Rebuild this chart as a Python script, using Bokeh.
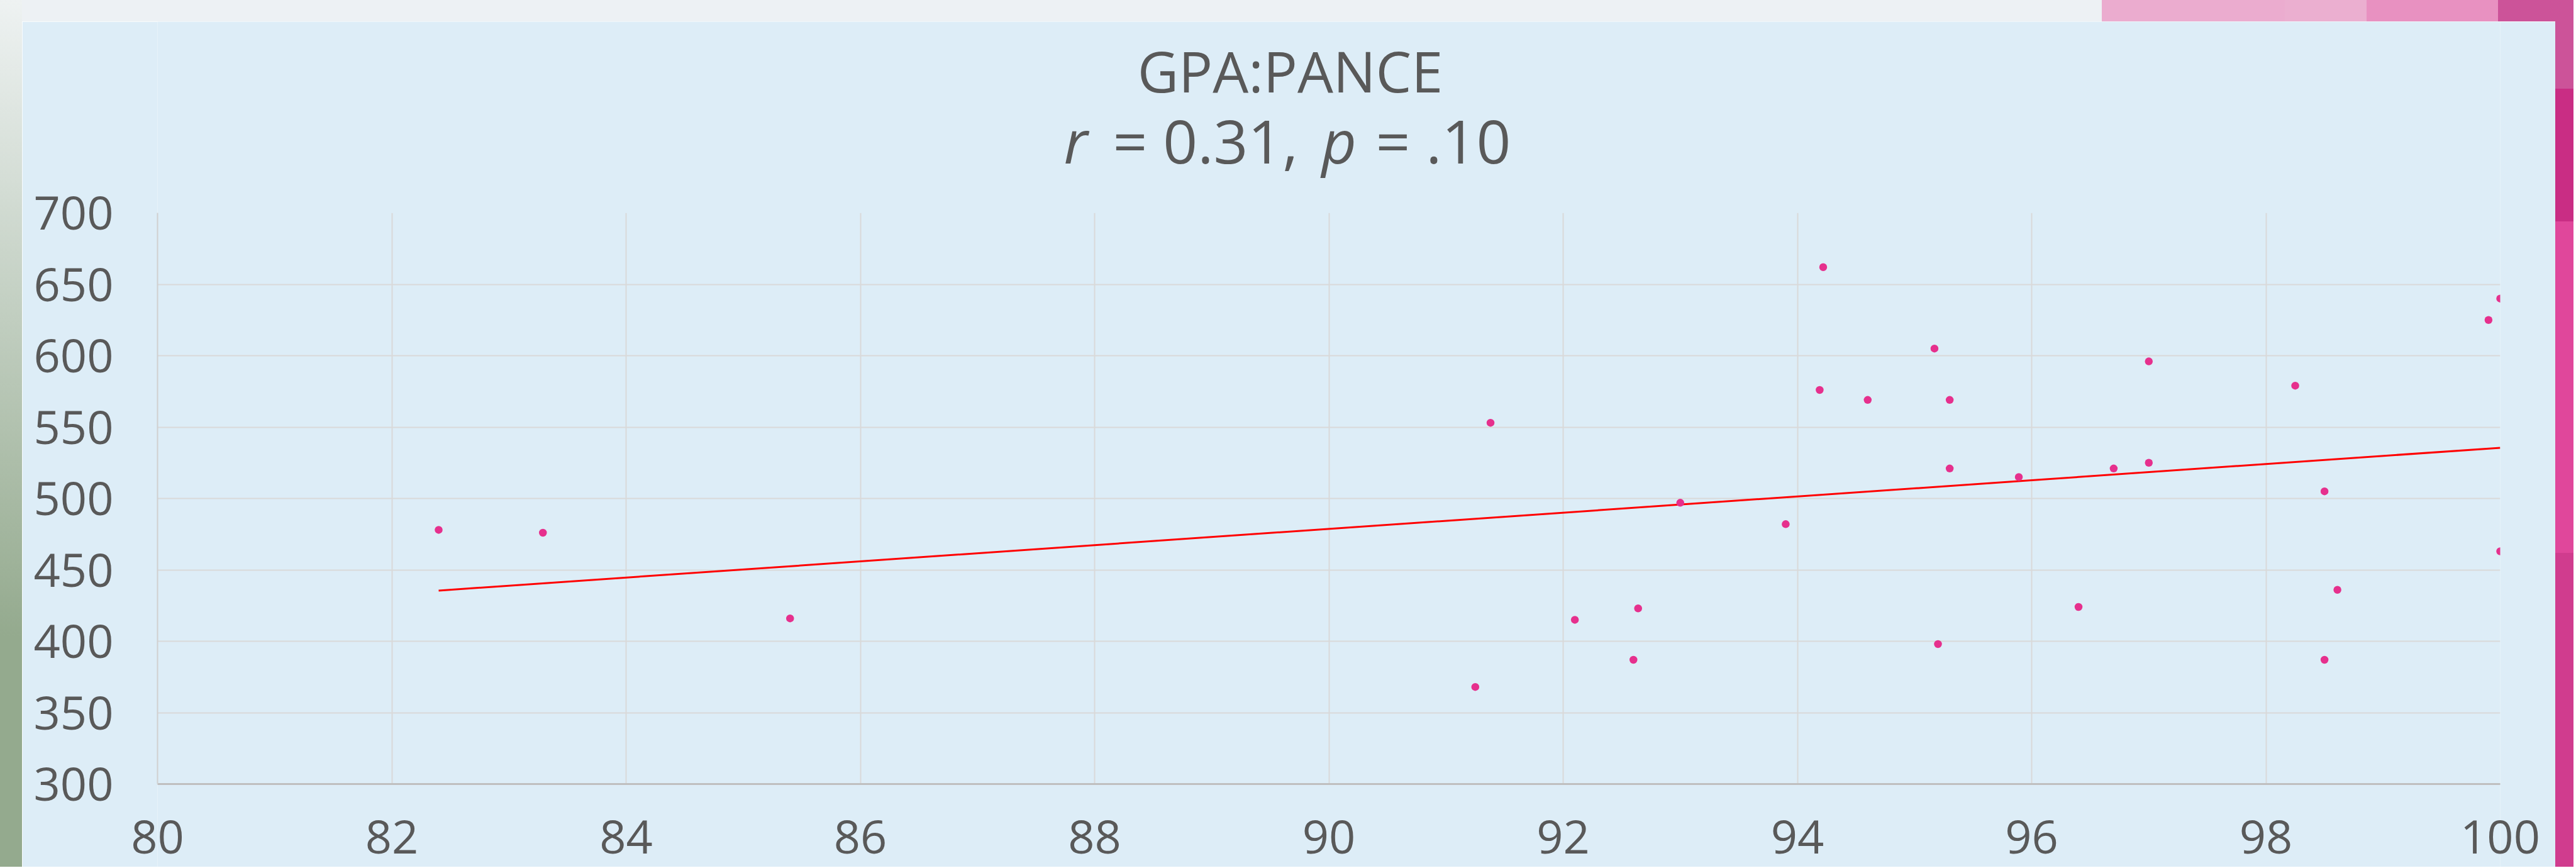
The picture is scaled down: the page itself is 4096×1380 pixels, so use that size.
from bokeh.plotting import figure
from bokeh.models import FixedTicker, Label, Range1d, Div
from bokeh.layouts import column, row
from bokeh.embed import file_html
from bokeh.resources import INLINE

# ---- data ----
gpa = [82.40, 83.29, 85.40, 91.25, 91.38, 92.10, 92.60, 92.64, 93.00, 93.90,
       94.19, 94.22, 94.60, 95.17, 95.20, 95.30, 95.30, 95.89, 96.40, 96.70,
       97.00, 97.00, 98.25, 98.50, 98.50, 98.61, 99.90, 100.0, 100.0]
pance = [478, 476, 416, 368, 553, 415, 387, 423, 497, 482,
         576, 662, 569, 605, 398, 569, 521, 515, 424, 521,
         596, 525, 579, 505, 387, 436, 625, 640, 463]
trend_gpa = [82.4, 100.0]
trend_pance = [435.5, 535.5]
x_ticks = [80, 82, 84, 86, 88, 90, 92, 94, 96, 98, 100]
y_ticks = [300, 350, 400, 450, 500, 550, 600, 650, 700]
title_line1 = "GPA:PANCE"
r_value = "0.31"
p_value = ".10"

FONT = "Open Sans"
TXT = "#595959"
PANEL = "#DDEDF7"

W, H = 4092, 1378          # whole slide area (page pixels)
LEFT_W, RIGHT_W, TOP_H = 35, 29, 34
MID_W = W - LEFT_W - RIGHT_W
MID_H = H - TOP_H
FR_L, FR_R, FR_T, FR_B = 250, 3975, 338, 1246   # plot frame on the page

# ---------------- slide decoration (CSS only) ----------------
left_strip = Div(text="", width=LEFT_W, height=H, margin=0,
                 styles={"background": "linear-gradient(to bottom, #EEF2F2 0px, #94AA8E 1011px, #94AA8E 1378px)"})
right_strip = Div(text="", width=RIGHT_W, height=H, margin=0,
                  styles={"background": "linear-gradient(to bottom, #CC5399 0px 141px, #C92D84 141px 352px, "
                                        "#E0479B 352px 879px, #D03C8E 879px 1378px)"})
top_strip = Div(text="", width=MID_W, height=TOP_H, margin=0,
                styles={"background": "linear-gradient(to right, #EDF1F4 0px 3307px, #EBACCF 3307px 3598px, "
                                      "#EBAFD0 3598px 3728px, #E891C1 3728px 3937px, #CC5399 3937px 4028px)"})

# ---------------- title panel (page pixel space) ----------------
back = figure(width=MID_W, height=MID_H, x_range=Range1d(FR_L, FR_R), y_range=Range1d(H, TOP_H),
              x_axis_type=None, y_axis_type=None, title=None,
              min_border_left=FR_L - LEFT_W, min_border_right=MID_W - (FR_R - LEFT_W),
              min_border_top=0, min_border_bottom=0,
              output_backend="svg", toolbar_location=None, margin=0)
back.outline_line_color = None
back.background_fill_color = PANEL
back.border_fill_color = PANEL

back.add_layout(Label(x=2051, y=111.5, text=title_line1, text_align="center",
                      text_baseline="alphabetic", text_font=FONT, text_font_size="90px",
                      text_color=TXT))
pieces = [(1691, "r", "italic"), (1769, "= " + r_value + ",", "normal"),
          (2101, "p", "italic"), (2187, "= " + p_value, "normal")]
for xx, t, st in pieces:
    back.add_layout(Label(x=xx, y=221.7, text=t, text_align="left", text_baseline="alphabetic",
                          text_font=FONT, text_font_size="96px", text_font_style=st,
                          text_color=TXT))

# ---------------- main chart (transparent, laid over the title panel) ----------------
p = figure(width=MID_W, height=MID_H, x_range=Range1d(80, 100), y_range=Range1d(300, 700),
           output_backend="svg", toolbar_location=None, title=None, margin=(-MID_H, 0, 0, 0),
           min_border_left=FR_L - LEFT_W, min_border_right=MID_W - (FR_R - LEFT_W),
           min_border_top=FR_T - TOP_H, min_border_bottom=H - FR_B)
p.background_fill_color = None
p.border_fill_color = None
p.outline_line_color = None

p.xaxis.ticker = FixedTicker(ticks=x_ticks)
p.yaxis.ticker = FixedTicker(ticks=y_ticks)
for ax in (p.xaxis, p.yaxis):
    ax.major_tick_line_color = None
    ax.minor_tick_line_color = None
    ax.major_tick_out = 0
    ax.major_tick_in = 0
    ax.minor_tick_out = 0
    ax.minor_tick_in = 0
    ax.major_label_text_font = FONT
    ax.major_label_text_font_size = "74px"
    ax.major_label_text_color = TXT
p.yaxis.major_label_standoff = 70
p.xaxis.major_label_standoff = 57
p.xaxis.axis_line_color = "#BFBFBF"
p.xaxis.axis_line_width = 3
p.yaxis.axis_line_color = "#D0D0D0"
p.yaxis.axis_line_width = 2
p.xgrid.grid_line_color = "#D9D9D9"
p.xgrid.grid_line_width = 2
p.ygrid.grid_line_color = "#D9D9D9"
p.ygrid.grid_line_width = 2

p.line(trend_gpa, trend_pance, line_color="#FF0000", line_width=3)
p.scatter(gpa, pance, size=12.5, fill_color="#E6308D", line_color=None)

layout = row(left_strip, column(top_strip, back, p, spacing=0), right_strip, spacing=0)
open("out.html", "w").write(file_html(layout, INLINE))
